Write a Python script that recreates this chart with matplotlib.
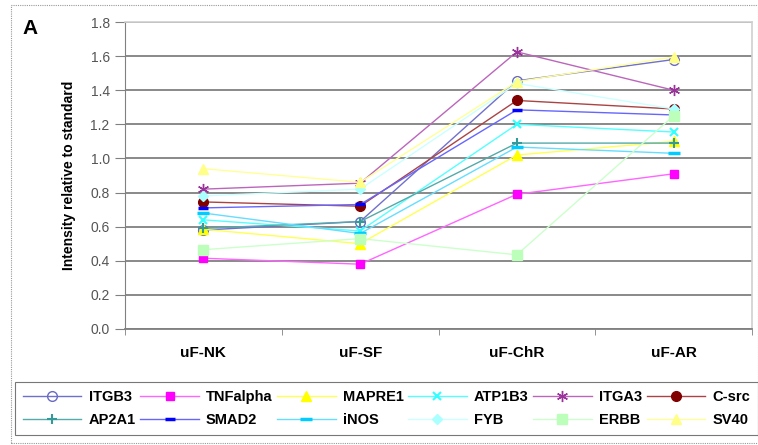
import matplotlib
matplotlib.use("Agg")
import matplotlib.pyplot as plt
from matplotlib.patches import Rectangle

plt.rcParams['font.family'] = ['Liberation Sans', 'DejaVu Sans']

categories = ["uF-NK", "uF-SF", "uF-ChR", "uF-AR"]
series_names = ["ITGB3", "TNFalpha", "MAPRE1", "ATP1B3", "ITGA3", "C-src",
                "AP2A1", "SMAD2", "iNOS", "FYB", "ERBB", "SV40"]
ITGB3 = [0.58, 0.63, 1.455, 1.58]
TNFalpha = [0.415, 0.38, 0.79, 0.91]
MAPRE1 = [0.585, 0.50, 1.02, 1.10]
ATP1B3 = [0.64, 0.575, 1.20, 1.155]
ITGA3 = [0.82, 0.855, 1.625, 1.40]
Csrc = [0.745, 0.72, 1.34, 1.29]
AP2A1 = [0.59, 0.63, 1.09, 1.09]
SMAD2 = [0.71, 0.73, 1.285, 1.255]
iNOS = [0.68, 0.56, 1.067, 1.03]
FYB = [0.78, 0.82, 1.44, 1.29]
ERBB = [0.465, 0.53, 0.435, 1.25]
SV40 = [0.94, 0.86, 1.45, 1.595]
values = [ITGB3, TNFalpha, MAPRE1, ATP1B3, ITGA3, Csrc, AP2A1, SMAD2, iNOS, FYB, ERBB, SV40]

# (line color, marker, marker face, marker edge, marker size)
styles = [
    ("#7070cc", "o", "none", "#6a6ac0", 7),
    ("#ff66ff", "s", "#ff00ff", "#ff00ff", 6),
    ("#ffff55", "^", "#ffff00", "#ffff00", 7),
    ("#55ffff", "x", "#33ffff", "#33ffff", 6),
    ("#bb66bb", (6, 2, 0), "#993399", "#993399", 8),
    ("#aa4444", "o", "#800000", "#800000", 7),
    ("#55aaaa", "+", "#339999", "#339999", 7),
    ("#6666ff", "_", "#0000ff", "#0000ff", 7),
    ("#66ddff", "_", "#00ccff", "#00ccff", 9),
    ("#ccffff", "D", "#aaffff", "#aaffff", 5),
    ("#ccffcc", "s", "#bbffbb", "#bbffbb", 7),
    ("#ffff99", "^", "#ffff88", "#ffff88", 7),
]

fig = plt.figure(figsize=(7.58, 4.45), dpi=100)
# outer dotted frame
fig.patches.append(Rectangle((11/758, 2/445), 747/758, 438/445, transform=fig.transFigure,
                             fill=False, edgecolor="#999999", linestyle=(0, (1, 1)), linewidth=0.8))
ax = fig.add_axes([125/758, 1 - 329/445, (752-125)/758, (329-22)/445])

x = list(range(len(categories)))
handles = []
for name, vals, (lc, mk, mf, me, ms) in zip(series_names, values, styles):
    mew = 2.5 if mk in ("_",) else (1.5 if mk in ("+", "x") else 1)
    h, = ax.plot(x, vals, color=lc, linewidth=1.0, marker=mk, markerfacecolor=mf,
                 markeredgecolor=me, markersize=ms, markeredgewidth=mew, label=name, zorder=3)
    handles.append(h)

ax.set_xlim(-0.5, 3.5)
ax.set_ylim(0, 1.8)
ax.set_yticks([i * 0.2 for i in range(10)])
ax.set_yticklabels([f"{i*0.2:.1f}" for i in range(10)], color="#555555", fontsize=10)
ax.yaxis.grid(True, color="#808080", linewidth=1.3)
ax.set_axisbelow(True)
ax.set_xticks(x)
ax.set_xticklabels(categories, fontweight="bold", fontsize=11)
ax.set_xticks([-0.5, 0.5, 1.5, 2.5, 3.5], minor=True)
ax.tick_params(axis="x", which="major", length=0, pad=12)
ax.tick_params(axis="x", which="minor", length=4, color="#808080", direction="out")
ax.tick_params(axis="y", length=7, color="#808080", direction="out", pad=4)
for s in ("top", "right"):
    ax.spines[s].set_color("#d0d0d0")
    ax.spines[s].set_linewidth(1.2)
ax.spines["left"].set_color("#808080")
ax.spines["bottom"].set_color("#808080")
ax.spines["bottom"].set_linewidth(1.3)
ax.set_ylabel("Intensity relative to standard", fontweight="bold", fontsize=10, labelpad=10)

fig.text(22/758, 1 - 29/445, "A", fontsize=15, fontweight="bold", va="center", ha="left")

# legend filled row-wise (6 columns x 2 rows)
ncol = 6
order = [r * ncol + c for c in range(ncol) for r in range(2)]
leg = fig.legend(handles=[handles[i] for i in order], loc="lower left",
                 bbox_to_anchor=(15/758, 10/445, 743/758, 51/445),
                 ncol=ncol, mode="expand", frameon=True, fancybox=False, edgecolor="#555555",
                 prop={"weight": "bold", "size": 10.5}, handlelength=4.0,
                 handletextpad=0.5, borderaxespad=0, borderpad=0.55, labelspacing=0.6,
                 columnspacing=0.5)
leg.get_frame().set_linewidth(0.8)

fig.savefig("out.png", dpi=100)
